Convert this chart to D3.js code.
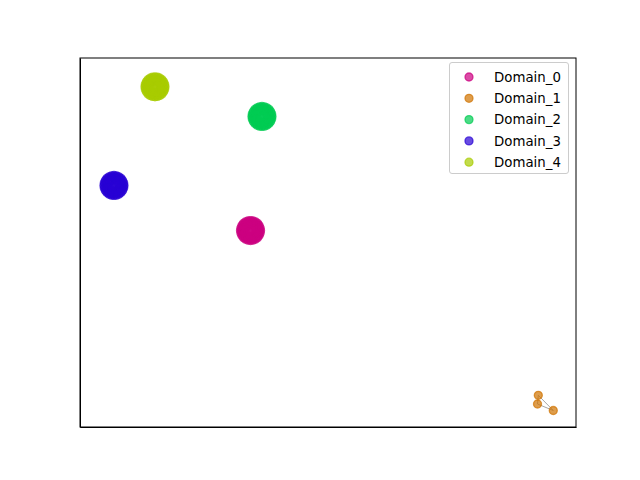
<!DOCTYPE html>
<html>
<head>
<meta charset="utf-8">
<script src="https://cdn.jsdelivr.net/npm/d3@7"></script>
<style>
html,body{margin:0;padding:0;background:#fff;}
svg{display:block;font-family:"DejaVu Sans",sans-serif;}
</style>
</head>
<body>
<svg id="chart" width="640" height="480"></svg>
<script>
// ---- data (arbitrary embedding units) ----
const domains = ["Domain_0","Domain_1","Domain_2","Domain_3","Domain_4"];
const colors = ["#cc0080","#d07400","#00cc52","#2800d4","#a8cc00"];
const domain0 = [[36.40,53.25],[36.12,54.60],[35.39,55.58],[34.38,55.95],[33.37,55.58],[32.64,54.60],[32.36,53.25],[32.64,51.90],[33.37,50.92],[34.38,50.55],[35.39,50.92],[36.12,51.90],
  [36.33,53.95],[35.81,55.17],[34.90,55.87],[33.86,55.87],[32.95,55.17],[32.43,53.95],[32.43,52.55],[32.95,51.33],[33.86,50.63],[34.90,50.63],[35.81,51.33],[36.33,52.55],
  [36.04,53.85],[35.59,54.88],[34.82,55.47],[33.94,55.47],[33.17,54.88],[32.72,53.85],[32.72,52.65],[33.17,51.62],[33.94,51.03],[34.82,51.03],[35.59,51.62],[36.04,52.65],
  [35.50,53.87],[34.84,54.75],[33.92,54.75],[33.26,53.87],[33.26,52.63],[33.92,51.75],[34.84,51.75],[35.50,52.63],
  [34.38,53.25],[34.88,53.55],[33.98,52.75]];
const domain1 = [[92.40,8.59],[92.24,6.23],[95.42,4.47]];
const domain2 = [[38.71,84.15],[38.43,85.50],[37.70,86.48],[36.69,86.85],[35.68,86.48],[34.95,85.50],[34.67,84.15],[34.95,82.80],[35.68,81.82],[36.69,81.45],[37.70,81.82],[38.43,82.80],
  [38.64,84.85],[38.12,86.07],[37.21,86.77],[36.17,86.77],[35.26,86.07],[34.74,84.85],[34.74,83.45],[35.26,82.23],[36.17,81.53],[37.21,81.53],[38.12,82.23],[38.64,83.45],
  [38.35,84.75],[37.90,85.78],[37.13,86.37],[36.25,86.37],[35.48,85.78],[35.03,84.75],[35.03,83.55],[35.48,82.52],[36.25,81.93],[37.13,81.93],[37.90,82.52],[38.35,83.55],
  [37.81,84.77],[37.15,85.65],[36.23,85.65],[35.57,84.77],[35.57,83.53],[36.23,82.65],[37.15,82.65],[37.81,83.53],
  [36.69,84.15],[37.19,84.45],[36.29,83.65]];
const domain3 = [[8.87,65.45],[8.59,66.80],[7.86,67.78],[6.85,68.15],[5.84,67.78],[5.11,66.80],[4.83,65.45],[5.11,64.10],[5.84,63.12],[6.85,62.75],[7.86,63.12],[8.59,64.10],
  [8.80,66.15],[8.28,67.37],[7.37,68.07],[6.33,68.07],[5.42,67.37],[4.90,66.15],[4.90,64.75],[5.42,63.53],[6.33,62.83],[7.37,62.83],[8.28,63.53],[8.80,64.75],
  [8.51,66.05],[8.06,67.08],[7.29,67.67],[6.41,67.67],[5.64,67.08],[5.19,66.05],[5.19,64.85],[5.64,63.82],[6.41,63.23],[7.29,63.23],[8.06,63.82],[8.51,64.85],
  [7.97,66.07],[7.31,66.95],[6.39,66.95],[5.73,66.07],[5.73,64.83],[6.39,63.95],[7.31,63.95],[7.97,64.83],
  [6.85,65.45],[7.35,65.75],[6.45,64.95]];
const domain4 = [[17.14,92.20],[16.86,93.55],[16.13,94.53],[15.12,94.90],[14.11,94.53],[13.38,93.55],[13.10,92.20],[13.38,90.85],[14.11,89.87],[15.12,89.50],[16.13,89.87],[16.86,90.85],
  [17.07,92.90],[16.55,94.12],[15.64,94.82],[14.60,94.82],[13.69,94.12],[13.17,92.90],[13.17,91.50],[13.69,90.28],[14.60,89.58],[15.64,89.58],[16.55,90.28],[17.07,91.50],
  [16.78,92.80],[16.33,93.83],[15.56,94.42],[14.68,94.42],[13.91,93.83],[13.46,92.80],[13.46,91.60],[13.91,90.57],[14.68,89.98],[15.56,89.98],[16.33,90.57],[16.78,91.60],
  [16.24,92.82],[15.58,93.70],[14.66,93.70],[14.00,92.82],[14.00,91.58],[14.66,90.70],[15.58,90.70],[16.24,91.58],
  [15.12,92.20],[15.62,92.50],[14.72,91.70]];
const pointsByDomain = [domain0, domain1, domain2, domain3, domain4];
// connecting lines (pairs of point indices) for Domain_1
const domain1Links = [[0,2],[1,2],[0,1]];

// ---- layout ----
const mLeft = 80, mRight = 576, mTop = 58, mBottom = 427;
const svg = d3.select("#chart");

const x = d3.scaleLinear().domain([0,100]).range([mLeft,mRight]);
const y = d3.scaleLinear().domain([0,100]).range([mBottom,mTop]);
const r = 4.0, sw = 1.33;

const plot = svg.append("g");
plot.selectAll("line.link").data(domain1Links).enter().append("line")
  .attr("x1", d => x(domain1[d[0]][0])).attr("y1", d => y(domain1[d[0]][1]))
  .attr("x2", d => x(domain1[d[1]][0])).attr("y2", d => y(domain1[d[1]][1]))
  .attr("stroke", "#808080").attr("stroke-opacity", 0.7).attr("stroke-width", 1);

pointsByDomain.forEach((pts, i) => {
  plot.append("g").selectAll("circle").data(pts).enter().append("circle")
    .attr("cx", d => x(d[0])).attr("cy", d => y(d[1])).attr("r", r)
    .attr("fill", colors[i]).attr("fill-opacity", 0.7)
    .attr("stroke", colors[i]).attr("stroke-opacity", 0.7).attr("stroke-width", sw);
});

// axes frame (no ticks)
const xAxis = d3.axisBottom(x).tickValues([]).tickSizeOuter(0);
const yAxis = d3.axisLeft(y).tickValues([]).tickSizeOuter(0);
svg.append("g").attr("transform", `translate(0,${mBottom})`).call(xAxis);
svg.append("g").attr("transform", `translate(${mLeft},0)`).call(yAxis);
svg.append("rect").attr("x", mLeft).attr("y", mTop).attr("width", mRight-mLeft).attr("height", mBottom-mTop)
  .attr("fill", "none").attr("stroke", "#000").attr("stroke-width", 1);
svg.selectAll(".domain").attr("stroke", "#000");

// legend
const lg = svg.append("g");
lg.append("rect").attr("x", 449.5).attr("y", 62.5).attr("width", 119).attr("height", 111)
  .attr("rx", 2.5).attr("fill", "#fff").attr("fill-opacity", 0.8).attr("stroke", "#cccccc").attr("stroke-width", 1);
domains.forEach((name, i) => {
  const yy = 77 + i * 21.3;
  lg.append("circle").attr("cx", 469).attr("cy", yy).attr("r", r)
    .attr("fill", colors[i]).attr("fill-opacity", 0.7)
    .attr("stroke", colors[i]).attr("stroke-opacity", 0.7).attr("stroke-width", sw);
  lg.append("text").attr("x", 494).attr("y", yy).attr("dy", "0.35em")
    .attr("font-size", "13.33px").attr("fill", "#000").text(name);
});
</script>
</body>
</html>
